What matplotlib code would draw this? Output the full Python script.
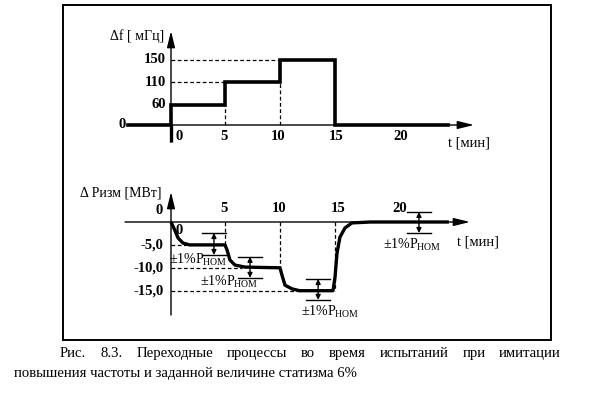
import numpy as np
import matplotlib
matplotlib.use("Agg")
import matplotlib.pyplot as plt
from matplotlib.patches import Rectangle

plt.rcParams['font.family'] = ['Liberation Serif', 'DejaVu Serif']
plt.rcParams['mathtext.fontset'] = 'custom'
plt.rcParams['mathtext.rm'] = 'Liberation Serif'

# --- data ---------------------------------------------------------------
# frequency steps, mHz
step_times = [0, 5, 10, 15]
step_values = [60, 110, 150, 0]
f_ticks = [150, 110, 60]
t_ticks = [0, 5, 10, 15, 20]

p_time = [0, 0.35, 0.65, 1.1, 1.7, 4.95, 5.14, 5.41, 5.87, 6.8, 10.0,
          10.18, 10.46, 11.1, 11.8, 14.86, 15.05, 15.23, 15.5, 15.96,
          16.6, 18.3, 25.5]
p_value = [0, -1.8, -3.5, -4.6, -5.0, -5.0, -6.1, -8.3, -9.4, -9.85, -10.0,
           -11.6, -13.8, -14.6, -15.0, -15.0, -12.0, -6.8, -3.3, -1.3,
           -0.2, 0, 0]
p_levels = [-5, -10, -15]
p_ticks = ["-5,0", "-10,0", "-15,0"]

# +-1% Pnom tolerance marks: centre time, lower and upper edge
tol_time = [3.94, 7.25, 13.5, 22.75]
tol_low = [-7.2, -12.2, -17.0, -2.4]
tol_high = [-2.4, -7.6, -12.45, 2.2]
tol_text_pos = [(2.5, -8.2), (5.3, -13.0), (14.6, -19.5), (22.1, -4.9)]

caption1 = "Рис. 8.3. Переходные процессы во время испытаний при имитации"
caption2 = "повышения частоты и заданной величине статизма 6%"

# --- layout (pixels of a 598x394 figure) ---------------------------------
W, H = 598, 394
X0, XS = 171.0, 10.9          # t = 0 position, px per minute
TOP0, A, B = 125.0, 0.2667, 0.001111   # schematic (non linear) df axis
BOT0, BS = 222.0, 4.58        # dP = 0 position, px per MW

fig = plt.figure(figsize=(W / 100, H / 100), dpi=100)


def fwd(v):
    v = np.asarray(v, dtype=float)
    return np.where(v > 0, A * v + B * v ** 2, A * v)


def inv(p):
    p = np.asarray(p, dtype=float)
    return np.where(p > 0, (-A + np.sqrt(A ** 2 + 4 * B * np.clip(p, 0, None))) / (2 * B), p / A)


def fx(px):
    return (px - X0) / XS


xlim = (fx(0), fx(W))

ax1 = fig.add_axes([0, 0, 1, 1])
ax1.set_yscale('function', functions=(fwd, inv))
ax1.set_xlim(*xlim)
ax1.set_ylim(float(inv(TOP0 - H)), float(inv(TOP0)))
ax1.axis('off')
ax1.patch.set_alpha(0)

ax2 = fig.add_axes([0, 0, 1, 1])
ax2.set_xlim(*xlim)
ax2.set_ylim((BOT0 - H) / BS, BOT0 / BS)
ax2.axis('off')
ax2.patch.set_alpha(0)

fig.patches.append(Rectangle((63 / W, 1 - 340 / H), (551 - 63) / W, (340 - 5) / H,
                             transform=fig.transFigure, fill=False, lw=1.4, ec='k'))

txt = dict(fontsize=10.5, fontweight='bold', color='k')
lab = dict(fontsize=10, color='k')
dash = dict(color='k', lw=0.9, ls=(0, (3, 2)))
arrow = dict(arrowstyle='-|>,head_length=0.9,head_width=0.22', lw=1.0, color='k',
             mutation_scale=11, shrinkA=0, shrinkB=0)

# --- top: frequency steps ------------------------------------------------
ax1.annotate('', xy=(fx(474), 0), xytext=(fx(128), 0), arrowprops=arrow)
ax1.annotate('', xy=(0, float(inv(TOP0 - 31))), xytext=(0, float(inv(TOP0 - 142))),
             arrowprops=arrow)
ax1.plot([0, 0], [float(inv(TOP0 - 142)), 0], color='k', lw=2.4, solid_capstyle='butt')

st = [fx(128)] + [t for t in step_times for _ in (0, 1)] + [fx(448)]
sv = [0, 0] + [v for v in step_values for _ in (0, 1)]
sv = sv[:len(st)]
ax1.plot(st, sv, color='k', lw=2.6, solid_joinstyle='miter')

ax1.plot([0, step_times[2]], [step_values[2]] * 2, **dash)
ax1.plot([0, step_times[1]], [step_values[1]] * 2, **dash)
ax1.plot([step_times[1]] * 2, [0, step_values[0]], **dash)
ax1.plot([step_times[2]] * 2, [0, step_values[1]], **dash)

for v in f_ticks:
    ax1.text(-0.45, v, str(v), ha='right', va='center', **txt)
ax1.text(fx(122), 0, "0", ha='center', va='center', **txt)
tx_top = [179, 224, 278, 336, 401]
for t, px in zip(t_ticks, tx_top):
    ax1.text(fx(px), float(inv(TOP0 - 137)), str(t), ha='center', va='center', **txt)
ax1.text(fx(164), float(inv(TOP0 - 36)), "Δf [ мГц]", ha='right', va='center', **lab)
ax1.text(fx(448), float(inv(TOP0 - 143)), "t [мин]", ha='left', va='center',
         fontsize=10.5, color='k')

# --- bottom: power response ----------------------------------------------
ax2.annotate('', xy=(fx(470), 0), xytext=(fx(125), 0), arrowprops=arrow)
ax2.annotate('', xy=(0, (BOT0 - 192) / BS), xytext=(0, (BOT0 - 315) / BS), arrowprops=arrow)
ax2.plot(p_time, p_value, color='k', lw=2.4, solid_capstyle='butt')

dash_end = [fx(186), fx(242), fx(302)]
for lev, x1, t in zip(p_levels, dash_end, step_times[1:]):
    ax2.plot([0, x1], [lev, lev], **dash)
    ax2.plot([t, t], [0, lev], **dash)

for lev, lab_txt in zip(p_levels, p_ticks):
    ax2.text(-0.7, lev, lab_txt, ha='right', va='center', **txt)
ax2.text(fx(159), (BOT0 - 211) / BS, "0", ha='center', va='center', **txt)
ax2.text(fx(179), (BOT0 - 230) / BS, "0", ha='center', va='center', **txt)
tx_bot = [224, 279, 338, 400]
for t, px in zip(t_ticks[1:], tx_bot):
    ax2.text(fx(px), (BOT0 - 208) / BS, str(t), ha='center', va='center', **txt)
ax2.text(fx(162), (BOT0 - 193) / BS, "Δ Ризм [МВт]", ha='right', va='center', **lab)
ax2.text(fx(457), (BOT0 - 242) / BS, "t [мин]", ha='left', va='center',
         fontsize=10.5, color='k')

for t, lo, hi, (tx, ty) in zip(tol_time, tol_low, tol_high, tol_text_pos):
    ax2.plot([t - 1.1, t + 1.1], [hi, hi], color='k', lw=1.0)
    ax2.plot([t - 1.1, t + 1.1], [lo, lo], color='k', lw=1.0)
    ax2.annotate('', xy=(t, lo), xytext=(t, hi),
                 arrowprops=dict(arrowstyle='<|-|>', lw=1.0, color='k',
                                 mutation_scale=7, shrinkA=0, shrinkB=0))
    ax2.text(tx, ty, r"±1%P$_{\mathrm{НОМ}}$", ha='center', va='center',
             fontsize=10, color='k')

# --- caption (first line justified) --------------------------------------
renderer = fig.canvas.get_renderer()
cap = dict(fontsize=10.6, color='k', va='baseline')

words = caption1.split()
objs = [fig.text(0, 1 - 357 / H, w, **cap) for w in words]
widths = [o.get_window_extent(renderer).width for o in objs]
left, right = 60.0, 561.0
gap = (right - left - sum(widths)) / (len(words) - 1)
x = left
for o, w in zip(objs, widths):
    o.set_x(x / W)
    x += w + gap
fig.text(14 / W, 1 - 377 / H, caption2, **cap)

fig.savefig("out.png", dpi=100)
